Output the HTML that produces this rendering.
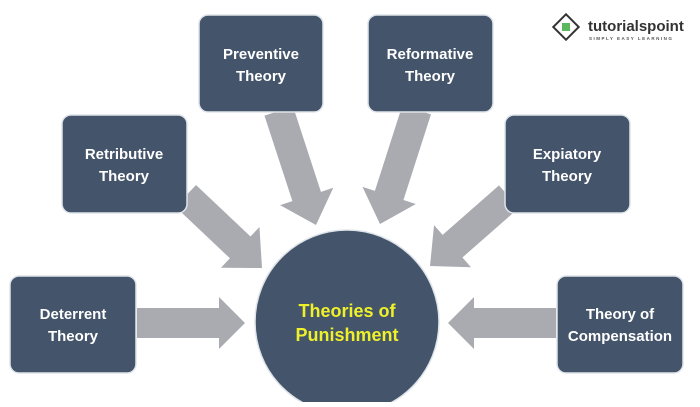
<!DOCTYPE html>
<html><head><style>
body{margin:0;background:#fff;}
svg text{font-family:"Liberation Sans",sans-serif;font-weight:bold;}
</style></head><body>
<svg width="700" height="402" viewBox="0 0 700 402" xmlns="http://www.w3.org/2000/svg">
<g fill="#a9abb0">
<g transform="translate(245,323)"><polygon points="-108,-15 -26,-15 -26,-26 0,0 -26,26 -26,15 -108,15"/></g>
<g transform="translate(448,323) rotate(180)"><polygon points="-108,-15 -26,-15 -26,-26 0,0 -26,26 -26,15 -108,15"/></g>
<g transform="translate(262,268) rotate(43.4)"><polygon points="-105,-15 -30,-15 -30,-28 0,0 -30,28 -30,15 -105,15"/></g>
<g transform="translate(430,266) rotate(138.7)"><polygon points="-105,-15 -30,-15 -30,-28 0,0 -30,28 -30,15 -105,15"/></g>
<g transform="translate(316,225) rotate(71.9)"><polygon points="-120,-15 -30,-15 -30,-28 0,0 -30,28 -30,15 -120,15"/></g>
<g transform="translate(380,224) rotate(107.8)"><polygon points="-120,-15 -30,-15 -30,-28 0,0 -30,28 -30,15 -120,15"/></g>
</g>
<g fill="#44546a" stroke="#dfe4ea" stroke-width="1.5">
<rect x="10" y="276" width="126" height="97" rx="9"/>
<rect x="62" y="115" width="125" height="98" rx="9"/>
<rect x="199" y="15" width="124" height="97" rx="9"/>
<rect x="368" y="15" width="125" height="97" rx="9"/>
<rect x="505" y="115" width="125" height="98" rx="9"/>
<rect x="557" y="276" width="126" height="97" rx="9"/>
<circle cx="347" cy="322" r="92"/>
</g>
<g fill="#fff" font-size="15" text-anchor="middle">
<text x="73" y="319">Deterrent</text><text x="73" y="341">Theory</text>
<text x="124" y="159">Retributive</text><text x="124" y="181">Theory</text>
<text x="261" y="59">Preventive</text><text x="261" y="81">Theory</text>
<text x="430" y="59">Reformative</text><text x="430" y="81">Theory</text>
<text x="567" y="159">Expiatory</text><text x="567" y="181">Theory</text>
<text x="620" y="319">Theory of</text><text x="620" y="341">Compensation</text>
</g>
<g fill="#eef02a" font-size="18" text-anchor="middle">
<text x="347" y="317">Theories of</text><text x="347" y="341">Punishment</text>
</g>
<g transform="translate(566,27)">
<rect x="-9" y="-9" width="18" height="18" transform="rotate(45)" fill="#fff" stroke="#333" stroke-width="2"/>
<rect x="-4" y="-4" width="8" height="8" fill="#5cb85c"/>
</g>
<text x="588" y="31" font-size="15" fill="#333">tutorialspoint</text>
<text x="589" y="40" font-size="4.5" fill="#555" letter-spacing="1.5">SIMPLY EASY LEARNING</text>
</svg>
</body></html>
